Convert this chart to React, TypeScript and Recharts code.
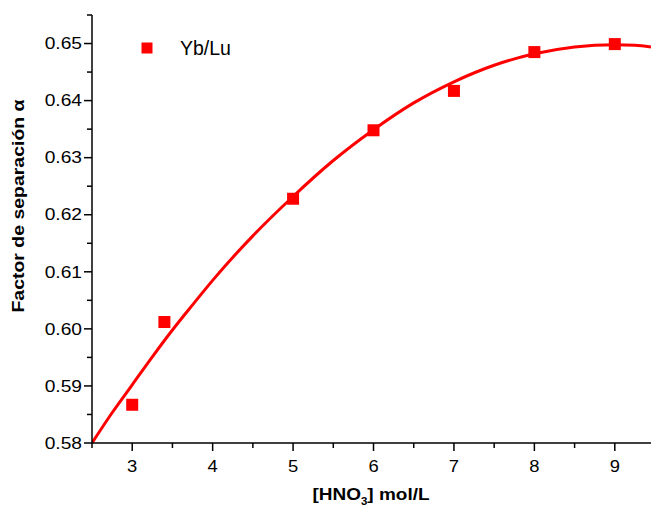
import React from 'react';
import { ComposedChart, Line, Scatter, XAxis, YAxis, Customized } from 'recharts';

// Measured data points (Yb/Lu)
const pointX = [3, 3.4, 5, 6, 7, 8, 9];
const pointY = [0.5867, 0.6012, 0.6228, 0.6348, 0.6417, 0.6485, 0.6499];

// Fitted curve
const fitX = [2.5, 2.75, 3, 3.25, 3.5, 3.75, 4, 4.5, 5, 5.5, 6, 6.5, 7, 7.5, 8, 8.5, 9, 9.25, 9.45];
const fitY = [0.58, 0.5853, 0.5902, 0.5951, 0.5998, 0.6042, 0.6085, 0.6163, 0.6232, 0.6295, 0.6349, 0.6396, 0.6433, 0.6462, 0.6482, 0.6494, 0.6498, 0.6497, 0.6494];

// Ticks
const xTicks = [2.5, 3, 3.5, 4, 4.5, 5, 5.5, 6, 6.5, 7, 7.5, 8, 8.5, 9];
const yTicks = [0.58, 0.585, 0.59, 0.595, 0.6, 0.605, 0.61, 0.615, 0.62, 0.625, 0.63, 0.635, 0.64, 0.645, 0.65, 0.655];

const seriesName = 'Yb/Lu';
const xTitle = '[HNO';
const xTitleSub = '3';
const xTitleEnd = '] mol/L';
const yTitle = 'Factor de separación α';

const fitData = fitX.map((x, i) => ({ x, y: fitY[i] }));
const pointData = pointX.map((x, i) => ({ x, y: pointY[i] }));

const FONT = '"Liberation Sans", Arial, sans-serif';
const RED = '#ff0000';

const XTick = (props: any) => {
  const { x, y, payload } = props;
  const v = payload.value as number;
  const major = Math.abs(v - Math.round(v)) < 1e-6;
  return (
    <g>
      <line x1={x} y1={y} x2={x} y2={y + (major ? 8 : 5)} stroke="#000" strokeWidth={1.5} />
      {major && (
        <text
          transform={`translate(${x},${y + 29}) scale(1.15,1)`}
          textAnchor="middle"
          fontFamily={FONT}
          fontSize={16}
          fill="#000"
        >
          {String(v)}
        </text>
      )}
    </g>
  );
};

const YTick = (props: any) => {
  const { x, y, payload } = props;
  const v = payload.value as number;
  const major = Math.round(v * 1000) % 10 === 0;
  return (
    <g>
      <line x1={x} y1={y} x2={x - (major ? 8 : 5)} y2={y} stroke="#000" strokeWidth={1.5} />
      {major && (
        <text
          transform={`translate(${x - 10},${y + 5.7}) scale(1.2,1)`}
          textAnchor="end"
          fontFamily={FONT}
          fontSize={16}
          fill="#000"
        >
          {v.toFixed(2)}
        </text>
      )}
    </g>
  );
};

const SquareShape = (props: any) => {
  const { cx, cy } = props;
  if (cx == null || cy == null) return null;
  return <rect x={cx - 6} y={cy - 6} width={12} height={12} fill={RED} />;
};

const Decorations = () => (
  <g>
    {/* legend */}
    <rect x={141.5} y={42.5} width={11} height={11} fill={RED} />
    <text x={180} y={55} fontFamily={FONT} fontSize={19.5} fill="#000">
      {seriesName}
    </text>
    {/* x title */}
    <text
      transform="translate(371,500) scale(1.15,1)"
      textAnchor="middle"
      fontFamily={FONT}
      fontSize={16.5}
      fontWeight="bold"
      fill="#000"
    >
      {xTitle}
      <tspan fontSize={10} dy={5}>{xTitleSub}</tspan>
      <tspan dy={-5}>{xTitleEnd}</tspan>
    </text>
    {/* y title */}
    <text
      transform="translate(24,206) rotate(-90) scale(1.18,1)"
      textAnchor="middle"
      fontFamily={FONT}
      fontSize={16.5}
      fontWeight="bold"
      fill="#000"
    >
      {yTitle}
    </text>
  </g>
);

export default function App() {
  return (
    <div style={{ position: 'absolute', left: 0, top: 0, width: 651, height: 506, background: '#fff' }}>
      <ComposedChart
        width={651}
        height={506}
        data={fitData}
        margin={{ top: 15, right: 0, left: 0, bottom: 0 }}
      >
        <XAxis
          dataKey="x"
          type="number"
          domain={[2.5, 9.45]}
          ticks={xTicks}
          allowDataOverflow
          height={63}
          tickSize={0}
          tickMargin={0}
          tickLine={false}
          axisLine={{ stroke: '#000', strokeWidth: 1.5 }}
          tick={<XTick />}
          interval={0}
        />
        <YAxis
          type="number"
          domain={[0.58, 0.655]}
          ticks={yTicks}
          allowDataOverflow
          width={92}
          tickSize={0}
          tickMargin={0}
          tickLine={false}
          axisLine={{ stroke: '#000', strokeWidth: 1.5 }}
          tick={<YTick />}
          interval={0}
        />
        <Line
          type="monotone"
          dataKey="y"
          stroke={RED}
          strokeWidth={3}
          dot={false}
          activeDot={false}
          isAnimationActive={false}
        />
        <Scatter
          data={pointData}
          dataKey="y"
          fill={RED}
          shape={<SquareShape />}
          isAnimationActive={false}
        />
        <Customized component={Decorations} />
      </ComposedChart>
    </div>
  );
}
